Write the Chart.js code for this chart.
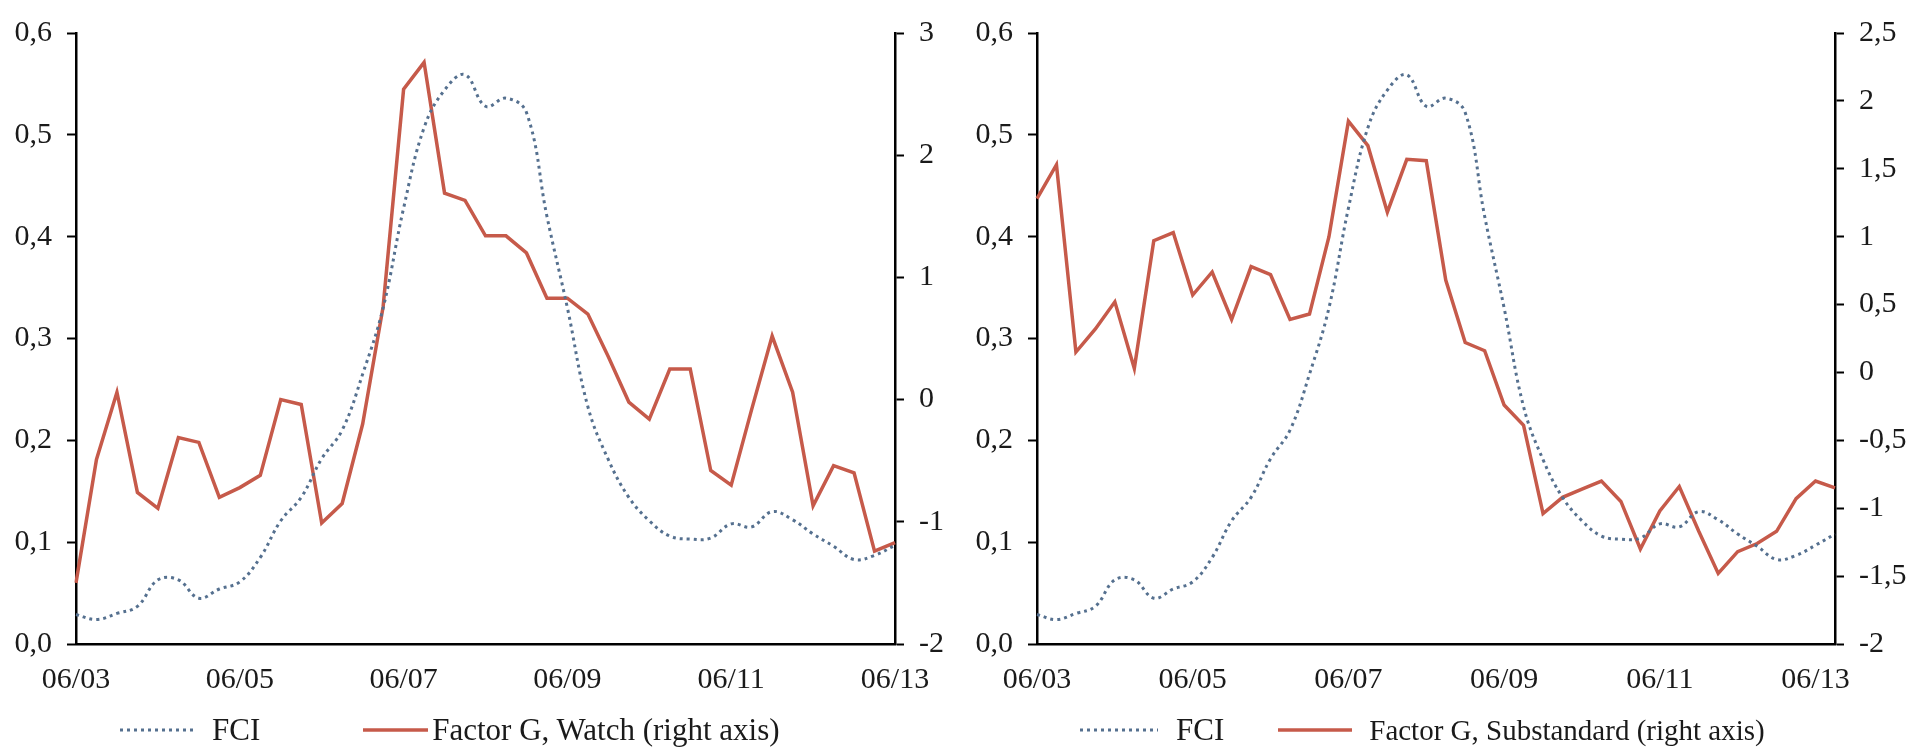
<!DOCTYPE html>
<html>
<head>
<meta charset="utf-8">
<script src="https://cdn.jsdelivr.net/npm/chart.js@4.4.1/dist/chart.umd.min.js"></script>
<style>
  html, body { margin: 0; padding: 0; background: #fff; }
  body { width: 1915px; height: 749px; position: relative; overflow: hidden; }
  canvas { position: absolute; top: 0; }
  #chartWatch { left: 0; }
  #chartSub { left: 957px; }
  .legend {
    position: absolute; top: 712px; height: 36px;
    display: flex; align-items: center;
    font-family: "Liberation Serif", "Times New Roman", serif;
    font-size: 31px; color: #1a1a1a; white-space: nowrap;
  }
  .legend.narrow { font-size: 29px; }
  .legend svg { display: block; }
</style>
</head>
<body>
<canvas id="chartWatch" width="957" height="749"></canvas>
<canvas id="chartSub" width="958" height="749"></canvas>

<div class="legend" style="left:120px">
  <svg width="75" height="6"><line x1="0" y1="3" x2="75" y2="3" stroke="#55708f" stroke-width="3" stroke-dasharray="3 4"/></svg>
  <span style="margin-left:17px">FCI</span>
  <svg width="65" height="6" style="margin-left:103px"><line x1="0" y1="3" x2="65" y2="3" stroke="#c65a4a" stroke-width="3.5"/></svg>
  <span style="margin-left:4px">Factor G, Watch (right axis)</span>
</div>
<div class="legend narrow" style="left:1080px">
  <svg width="78" height="6"><line x1="0" y1="3" x2="78" y2="3" stroke="#55708f" stroke-width="3" stroke-dasharray="3 4"/></svg>
  <span style="margin-left:18px; font-size:31px">FCI</span>
  <svg width="74" height="6" style="margin-left:54px"><line x1="0" y1="3" x2="74" y2="3" stroke="#c65a4a" stroke-width="3.5"/></svg>
  <span style="margin-left:17px">Factor G, Substandard (right axis)</span>
</div>

<script>
// Quarter-end dates, MM/YY
const quarters = [
    '06/03', '09/03', '12/03',
    '03/04', '06/04', '09/04', '12/04',
    '03/05', '06/05', '09/05', '12/05',
    '03/06', '06/06', '09/06', '12/06',
    '03/07', '06/07', '09/07', '12/07',
    '03/08', '06/08', '09/08', '12/08',
    '03/09', '06/09', '09/09', '12/09',
    '03/10', '06/10', '09/10', '12/10',
    '03/11', '06/11', '09/11', '12/11',
    '03/12', '06/12', '09/12', '12/12',
    '03/13', '06/13', '09/13'
];

// Financial conditions index (left axis)
const fci = [
    0.029, 0.024, 0.030, 0.037, 0.063, 0.063, 0.045, 0.054, 0.061, 0.085,
    0.121, 0.144, 0.182, 0.210, 0.265, 0.330, 0.428, 0.507, 0.544, 0.559,
    0.528, 0.536, 0.522, 0.420, 0.330, 0.233, 0.181, 0.144, 0.121, 0.106,
    0.103, 0.104, 0.118, 0.115, 0.130, 0.122, 0.108, 0.096, 0.083, 0.087,
    0.097, 0.108
];

// Factor G, Watch loans (right axis) - through 06/13
const factorWatch = [
    -1.50, -0.49, 0.06, -0.76, -0.89, -0.31, -0.35, -0.80, -0.72, -0.62,
    0.00, -0.04, -1.01, -0.85, -0.20, 0.76, 2.54, 2.76, 1.69, 1.63,
    1.34, 1.34, 1.20, 0.83, 0.83, 0.70, 0.35, -0.02, -0.16, 0.25,
    0.25, -0.58, -0.70, -0.08, 0.52, 0.06, -0.87, -0.54, -0.60, -1.24,
    -1.17
];

// Factor G, Substandard loans (right axis) - through 09/13
const factorSubstandard = [
    1.28, 1.53, 0.15, 0.32, 0.52, 0.03, 0.97, 1.03, 0.57, 0.74,
    0.39, 0.78, 0.72, 0.39, 0.43, 1.00, 1.85, 1.67, 1.18, 1.57,
    1.56, 0.68, 0.22, 0.16, -0.24, -0.39, -1.04, -0.92, -0.86, -0.80,
    -0.95, -1.30, -1.02, -0.84, -1.17, -1.48, -1.32, -1.26, -1.17, -0.93,
    -0.80, -0.85
];

const FCI_COLOR = '#55708f';
const FACTOR_COLOR = '#c65a4a';

Chart.defaults.font.family = '"Liberation Serif", "Times New Roman", serif';
Chart.defaults.font.size = 30;
Chart.defaults.color = '#1a1a1a';

// left axis: always one decimal, with a decimal comma
function fixedTick(v) {
    return v.toFixed(1).replace('.', ',');
}

// right axis: integers without decimals
function commaTick(v) {
    if (Math.abs(v - Math.round(v)) < 1e-9) return String(Math.round(v));
    return v.toFixed(1).replace('.', ',');
}

function axisStyle() {
    return {
        grid: { drawOnChartArea: false, tickLength: 9, tickColor: '#000', tickWidth: 2, color: '#000' },
        border: { color: '#000', width: 2.5 }
    };
}

function createChart(elementId, labels, fciData, factorData, factorLabel, rightMin, rightMax, rightStep, leftWidth, rightWidth) {
    const ctx = document.getElementById(elementId).getContext('2d');

    return new Chart(ctx, {
        type: 'line',
        data: {
            labels: labels,
            datasets: [
                {
                    label: 'FCI',
                    data: fciData,
                    yAxisID: 'y',
                    borderColor: FCI_COLOR,
                    borderWidth: 3,
                    borderDash: [3, 4],
                    pointRadius: 0,
                    tension: 0.4,
                    fill: false
                },
                {
                    label: factorLabel,
                    data: factorData,
                    yAxisID: 'y1',
                    borderColor: FACTOR_COLOR,
                    borderWidth: 3.5,
                    pointRadius: 0,
                    tension: 0,
                    fill: false
                }
            ]
        },
        options: {
            responsive: false,
            animation: false,
            devicePixelRatio: 1,
            layout: { padding: { top: 29, left: 0, right: 0, bottom: 0 } },
            plugins: {
                legend: { display: false },
                tooltip: { enabled: false }
            },
            scales: {
                x: {
                    type: 'category',
                    offset: false,
                    grid: { display: false },
                    border: { color: '#000', width: 2.5 },
                    ticks: {
                        autoSkip: false,
                        maxRotation: 0,
                        padding: 10,
                        callback: function (val, i) {
                            return i % 8 === 0 ? this.getLabelForValue(val) : '';
                        }
                    },
                    afterFit: (s) => { s.height = 105; }
                },
                y: {
                    position: 'left',
                    min: 0,
                    max: 0.6,
                    ...axisStyle(),
                    ticks: { stepSize: 0.1, padding: 15, callback: (v) => fixedTick(v) },
                    afterFit: (s) => { s.width = leftWidth; }
                },
                y1: {
                    position: 'right',
                    min: rightMin,
                    max: rightMax,
                    ...axisStyle(),
                    ticks: { stepSize: rightStep, padding: 15, callback: (v) => commaTick(v) },
                    afterFit: (s) => { s.width = rightWidth; }
                }
            }
        }
    });
}

createChart('chartWatch', quarters.slice(0, 41), fci.slice(0, 41), factorWatch,
    'Factor G, Watch (right axis)', -2, 3, 1, 76, 62);

createChart('chartSub', quarters, fci, factorSubstandard,
    'Factor G, Substandard (right axis)', -2, 2.5, 0.5, 80, 80);
</script>
</body>
</html>
